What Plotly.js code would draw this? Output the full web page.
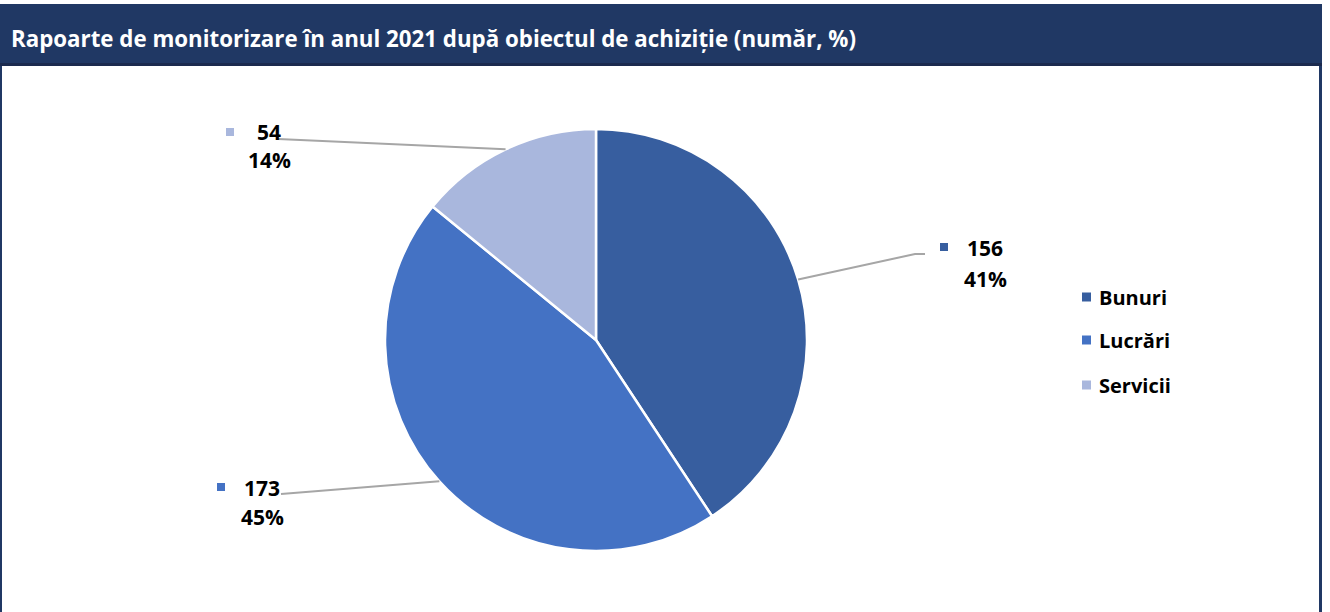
<!DOCTYPE html>
<html><head><meta charset="utf-8">
<script src="https://cdn.plot.ly/plotly-3.0.1.min.js"></script>
<style>html,body{margin:0;padding:0;background:#fff;}#chart{width:1330px;height:612px;}</style>
</head><body><div id="chart"></div>
<script>
// ---- data ----
const categories = ["Bunuri", "Lucrări", "Servicii"];
const counts = [156, 173, 54];
const colors = ["#375E9F", "#4472C4", "#A9B7DD"];
const titleText = "Rapoarte de monitorizare în anul 2021 după obiectul de achiziție (număr, %)";

// ---- layout helpers ----
const W = 1330, H = 612;
const px = x => x / W, py = y => 1 - y / H;
const cx = 596, cy = 340, R = 211;
const FONT = "'Open Sans', sans-serif";

const total = counts.reduce((a, b) => a + b, 0);
const pct = counts.map(v => Math.round(v / total * 100));

// label layout (per category): marker square, text center, leader end point(s)
const labelLayout = [
  {mx: 944, my: 247, tx: 985, ty1: 248, ty2: 279, lx: [915, 925], ly: [254, 254]},
  {mx: 221, my: 487, tx: 262, ty1: 488, ty2: 517, lx: [281], ly: [494]},
  {mx: 230, my: 132, tx: 269, ty1: 132, ty2: 160, lx: [278], ly: [139]}
];

const shapes = [];
const annotations = [];

// header band + borders
shapes.push({type: "rect", xref: "paper", yref: "paper", x0: px(0), x1: px(1322), y0: py(63), y1: py(4), fillcolor: "#203864", line: {width: 0}, layer: "below"});
shapes.push({type: "rect", xref: "paper", yref: "paper", x0: px(0), x1: px(1322), y0: py(66), y1: py(63), fillcolor: "#1B2A4E", line: {width: 0}, layer: "below"});
shapes.push({type: "rect", xref: "paper", yref: "paper", x0: px(0), x1: px(2), y0: py(612), y1: py(66), fillcolor: "#203864", line: {width: 0}});
shapes.push({type: "rect", xref: "paper", yref: "paper", x0: px(1319), x1: px(1322), y0: py(612), y1: py(66), fillcolor: "#203864", line: {width: 0}});

annotations.push({text: "<b>" + titleText + "</b>", xref: "paper", yref: "paper", x: px(9), y: py(38), xanchor: "left", yanchor: "middle", showarrow: false, font: {family: FONT, size: 22.3, color: "#ffffff"}});

// data labels with leader lines computed from slice angles
let cum = 0;
counts.forEach((v, i) => {
  const mid = (cum + v / 2) / total * 2 * Math.PI; // clockwise from 12 o'clock
  cum += v;
  const ex = cx + R * Math.sin(mid), ey = cy - R * Math.cos(mid);
  const L = labelLayout[i];
  const pts = [[ex, ey]];
  L.lx.forEach((x, k) => pts.push([x, L.ly[k]]));
  const path = pts.map((p, k) => (k ? "L" : "M") + px(p[0]) + "," + py(p[1])).join(" ");
  shapes.push({type: "path", xref: "paper", yref: "paper", path: path, line: {color: "#A6A6A6", width: 2}});
  shapes.push({type: "rect", xref: "paper", yref: "paper", x0: px(L.mx - 4), x1: px(L.mx + 4), y0: py(L.my + 4), y1: py(L.my - 4), fillcolor: colors[i], line: {width: 0}});
  annotations.push({text: "<b>" + v + "</b>", xref: "paper", yref: "paper", x: px(L.tx), y: py(L.ty1), xanchor: "center", yanchor: "middle", showarrow: false, font: {family: FONT, size: 21, color: "#000"}});
  annotations.push({text: "<b>" + pct[i] + "%</b>", xref: "paper", yref: "paper", x: px(L.tx), y: py(L.ty2), xanchor: "center", yanchor: "middle", showarrow: false, font: {family: FONT, size: 21, color: "#000"}});
});

// custom legend
const legY = [297, 340, 385];
categories.forEach((c, i) => {
  shapes.push({type: "rect", xref: "paper", yref: "paper", x0: px(1082), x1: px(1091), y0: py(legY[i] + 4.5), y1: py(legY[i] - 4.5), fillcolor: colors[i], line: {width: 0}});
  annotations.push({text: "<b>" + c + "</b>", xref: "paper", yref: "paper", x: px(1097), y: py(legY[i]), xanchor: "left", yanchor: "middle", showarrow: false, font: {family: FONT, size: 20, color: "#000"}});
});

const trace = {
  type: "pie",
  labels: categories,
  values: counts,
  marker: {colors: colors, line: {color: "#ffffff", width: 2.5}},
  sort: false,
  direction: "clockwise",
  rotation: 0,
  textinfo: "none",
  hoverinfo: "label+value+percent",
  showlegend: false,
  domain: {x: [px(cx - R), px(cx + R)], y: [py(cy + R), py(cy - R)]}
};

Plotly.newPlot("chart", [trace], {
  width: W, height: H,
  margin: {l: 0, r: 0, t: 0, b: 0},
  paper_bgcolor: "#ffffff",
  showlegend: false,
  shapes: shapes,
  annotations: annotations
}, {displayModeBar: false, staticPlot: true});
</script>
</body></html>
